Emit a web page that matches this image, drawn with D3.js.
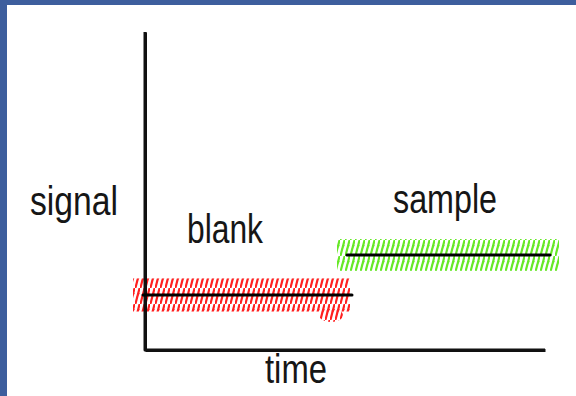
<!DOCTYPE html>
<html><head><meta charset="utf-8">
<script src="https://cdn.jsdelivr.net/npm/d3@7/dist/d3.min.js"></script>
<style>html,body{margin:0;padding:0;background:#fff;}svg{display:block;}</style>
</head><body>
<svg id="chart" width="576" height="396"></svg>
<script>
// ---- data ----
const categories = ["blank", "sample"];
const meanSignal = [1.73, 2.99];          // mean level of each measurement
const noiseHalfWidth = [0.52, 0.5];       // half-width of the noisy band
const lineStart = [-0.05, 5.05];          // time where mean line starts
const lineEnd = [5.175, 10.125];          // time where mean line ends
const bandStart = [-0.3, 4.8];            // time where noisy band starts
const bandEnd = [5.125, 10.35];           // time where noisy band ends
const blobTime = [4.35, 4.95];            // extra noise blob under the blank band
const blobSignal = [0.88, 1.3];
const axisLabels = { x: "time", y: "signal" };
const labelPos = { blank: [1.05, 3.35], sample: [6.2, 4.3] }; // [time, signal] of label anchors

// ---- layout ----
const svg = d3.select("#chart");
const x = d3.scaleLinear().domain([0, 10]).range([145, 545]);
const y = d3.scaleLinear().domain([0, 10]).range([350, 32]);
const colors = ["#ff1f1f", "#66e826"];

// blue frame
svg.append("rect").attr("x", 0).attr("y", 0).attr("width", 576).attr("height", 5).attr("fill", "#3d5e9d");
svg.append("rect").attr("x", 0).attr("y", 0).attr("width", 7).attr("height", 396).attr("fill", "#3d5e9d");

// hatch patterns
const defs = svg.append("defs");
categories.forEach((c, i) => {
  const p = defs.append("pattern").attr("id", "hatch-" + c)
    .attr("patternUnits", "userSpaceOnUse").attr("width", 5).attr("height", 16);
  p.append("line").attr("x1", 0.6).attr("y1", 15.2).attr("x2", 4.4).attr("y2", 0.8)
    .attr("stroke", colors[i]).attr("stroke-width", 2.2).attr("stroke-linecap", "round");
  p.append("line").attr("x1", 1.2).attr("y1", 10).attr("x2", 4.6).attr("y2", 5)
    .attr("stroke", colors[i]).attr("stroke-width", 1.2).attr("opacity", 0.55);
});

// noisy bands
const g = svg.append("g");
categories.forEach((c, i) => {
  g.append("rect")
    .attr("x", x(bandStart[i])).attr("width", x(bandEnd[i]) - x(bandStart[i]))
    .attr("y", y(meanSignal[i] + noiseHalfWidth[i]))
    .attr("height", y(meanSignal[i] - noiseHalfWidth[i]) - y(meanSignal[i] + noiseHalfWidth[i]))
    .attr("fill", "url(#hatch-" + c + ")");
});
g.append("ellipse")
  .attr("cx", x((blobTime[0] + blobTime[1]) / 2)).attr("cy", y((blobSignal[0] + blobSignal[1]) / 2))
  .attr("rx", (x(blobTime[1]) - x(blobTime[0])) / 2).attr("ry", (y(blobSignal[0]) - y(blobSignal[1])) / 2)
  .attr("fill", "url(#hatch-blank)");

// axes
const yAxis = d3.axisLeft(y).ticks(0).tickSizeOuter(0);
const xAxis = d3.axisBottom(x).ticks(0).tickSizeOuter(0);
svg.append("g").attr("transform", `translate(${x(0)},0)`).call(yAxis)
  .select(".domain").attr("stroke", "#111").attr("stroke-width", 3);
svg.append("g").attr("transform", `translate(0,${y(0)})`).call(xAxis)
  .select(".domain").attr("stroke", "#111").attr("stroke-width", 3);
svg.append("path").attr("d", d3.line()([[x(0), y(10)], [x(0), y(0)], [x(10), y(0)]]))
  .attr("fill", "none").attr("stroke", "#111").attr("stroke-width", 3).attr("stroke-linejoin", "round");

// mean lines
categories.forEach((c, i) => {
  svg.append("line")
    .attr("x1", x(lineStart[i])).attr("x2", x(lineEnd[i]))
    .attr("y1", y(meanSignal[i])).attr("y2", y(meanSignal[i]))
    .attr("stroke", "#000").attr("stroke-width", 3).attr("stroke-linecap", "round");
});

// text
function label(txt, px, py, len) {
  svg.append("text").text(txt).attr("x", px).attr("y", py)
    .attr("font-family", "'Liberation Sans', Arial, sans-serif").attr("font-size", 40)
    .attr("fill", "#161616")
    .attr("textLength", len).attr("lengthAdjust", "spacingAndGlyphs");
}
label(axisLabels.y, 30, 215, 88);
label(axisLabels.x, 265, 383, 62);
label(categories[0], x(labelPos.blank[0]), y(labelPos.blank[1]), 76);
label(categories[1], x(labelPos.sample[0]), y(labelPos.sample[1]), 104);
</script>
</body></html>
